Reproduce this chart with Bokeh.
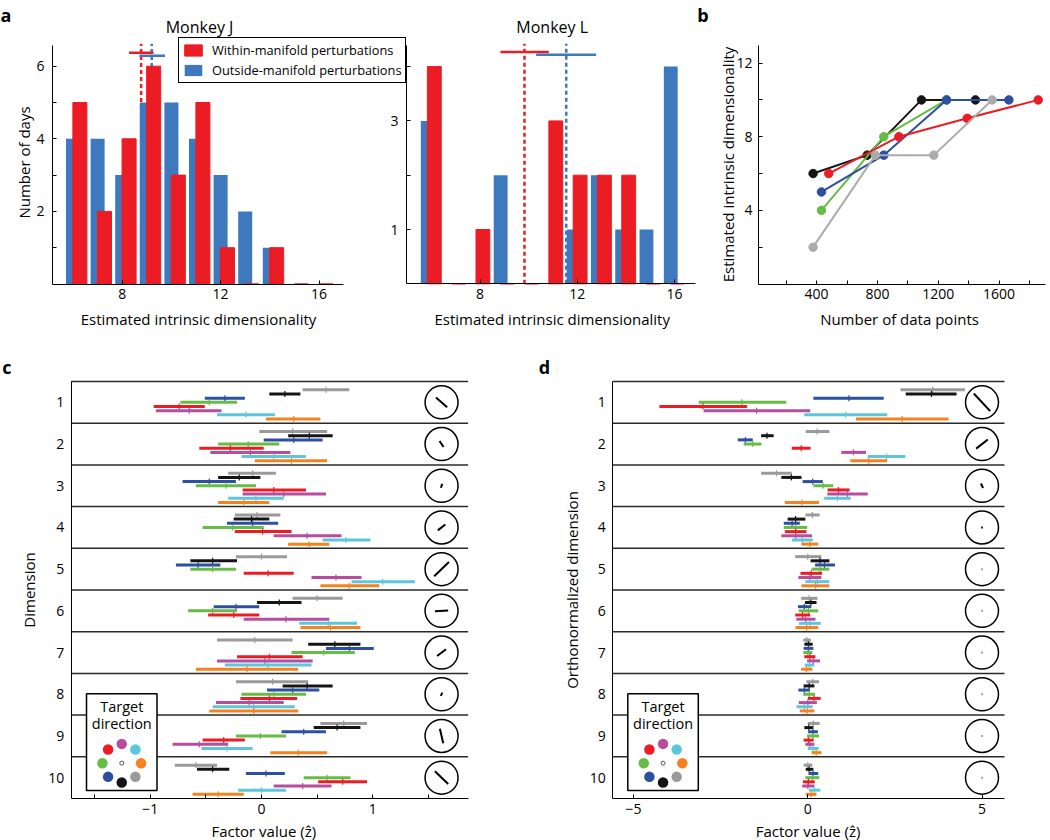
import math
from bokeh.plotting import figure
from bokeh.models import Range1d, FixedTicker, Legend, LegendItem, Label, LinearAxis
from bokeh.embed import file_html
from bokeh.resources import INLINE
from bokeh.core.properties import value

FONT = "Open Sans"
TICK_FS = "14px"
LABEL_FS = "15px"

# ------------------------------------------------------------------ DATA
# panel a: histograms of estimated intrinsic dimensionality
dims = [6, 7, 8, 9, 10, 11, 12, 13, 14, 15, 16]
j_within = [5, 2, 4, 6, 3, 5, 1, 0, 1, 0, 0]
j_outside = [4, 4, 3, 5, 5, 4, 3, 2, 1, 0, 0]
l_within = [4, 0, 1, 0, 0, 3, 2, 2, 2, 0, 0]
l_outside = [3, 0, 0, 2, 0, 0, 1, 2, 1, 1, 4]
j_within_mean, j_within_ci, j_within_ci_y = 8.77, (8.28, 9.27), 6.37
j_outside_mean, j_outside_ci, j_outside_ci_y = 9.20, (8.70, 9.74), 6.29
l_within_mean, l_within_ci, l_within_ci_y = 9.83, (8.84, 10.83), 4.27
l_outside_mean, l_outside_ci, l_outside_ci_y = 11.55, (10.31, 12.78), 4.22

# panel b: dimensionality vs number of data points
b_black_x = [377, 733, 1090, 1445]
b_black_y = [6, 7, 10, 10]
b_green_x = [432, 842, 1255]
b_green_y = [4, 8, 10]
b_blue_x = [432, 842, 1255, 1665]
b_blue_y = [5, 7, 10, 10]
b_red_x = [480, 941, 1391, 1858]
b_red_y = [6, 8, 9, 10]
b_gray_x = [377, 787, 1171, 1555]
b_gray_y = [2, 7, 7, 10]

# panels c, d: factor values per target direction (rows = dimensions 1..10)
targets = ["gray", "black", "blue", "green", "red", "magenta", "cyan", "orange"]
target_angle = [315, 270, 225, 180, 135, 90, 45, 0]
dimensions = [1, 2, 3, 4, 5, 6, 7, 8, 9, 10]

c_center = {
    "gray": [0.58, 0.28, -0.08, -0.04, 0.00, 0.50, -0.06, 0.10, 0.74, -0.59],
    "black": [0.21, 0.43, -0.20, -0.09, -0.44, 0.16, 0.66, 0.41, 0.68, -0.44],
    "blue": [-0.33, 0.29, -0.47, -0.08, -0.57, -0.23, 0.79, 0.28, 0.38, 0.04],
    "green": [-0.47, -0.12, -0.32, -0.26, -0.44, -0.44, 0.56, 0.11, -0.01, 0.59],
    "red": [-0.74, -0.28, 0.11, 0.01, 0.06, -0.25, 0.07, 0.07, -0.34, 0.73],
    "magenta": [-0.65, -0.10, 0.20, 0.41, 0.67, 0.22, 0.03, -0.11, -0.56, 0.37],
    "cyan": [-0.14, 0.11, -0.05, 0.76, 1.09, 0.60, 0.06, -0.07, -0.31, 0.00],
    "orange": [0.29, 0.27, -0.16, 0.43, 0.79, 0.62, -0.13, -0.07, 0.33, -0.39],
}
c_low = {
    "gray": [0.37, -0.02, -0.30, -0.24, -0.23, 0.28, -0.40, -0.23, 0.53, -0.78],
    "black": [0.07, 0.24, -0.39, -0.25, -0.64, -0.04, 0.42, 0.19, 0.47, -0.58],
    "blue": [-0.51, 0.02, -0.71, -0.31, -0.77, -0.43, 0.58, 0.05, 0.18, -0.14],
    "green": [-0.73, -0.39, -0.59, -0.53, -0.64, -0.66, 0.27, -0.18, -0.23, 0.38],
    "red": [-0.97, -0.56, -0.17, -0.24, -0.16, -0.48, -0.22, -0.19, -0.53, 0.51],
    "magenta": [-0.95, -0.46, -0.17, 0.11, 0.45, -0.16, -0.40, -0.41, -0.80, 0.11],
    "cyan": [-0.40, -0.18, -0.30, 0.55, 0.81, 0.34, -0.33, -0.44, -0.54, -0.21],
    "orange": [0.04, -0.06, -0.39, 0.24, 0.53, 0.35, -0.59, -0.47, 0.08, -0.62],
}
c_high = {
    "gray": [0.79, 0.59, 0.13, 0.17, 0.23, 0.73, 0.28, 0.42, 0.95, -0.40],
    "black": [0.35, 0.64, -0.01, 0.07, -0.22, 0.36, 0.89, 0.64, 0.89, -0.29],
    "blue": [-0.15, 0.55, -0.23, 0.15, -0.37, -0.02, 1.01, 0.52, 0.58, 0.21],
    "green": [-0.22, 0.16, -0.05, 0.02, -0.23, -0.22, 0.84, 0.40, 0.22, 0.80],
    "red": [-0.51, 0.02, 0.40, 0.27, 0.29, -0.02, 0.37, 0.32, -0.15, 0.95],
    "magenta": [-0.36, 0.26, 0.58, 0.72, 0.90, 0.61, 0.46, 0.20, -0.30, 0.63],
    "cyan": [0.12, 0.40, 0.20, 0.98, 1.38, 0.86, 0.45, 0.30, -0.08, 0.22],
    "orange": [0.53, 0.59, 0.07, 0.61, 1.06, 0.89, 0.33, 0.33, 0.59, -0.16],
}
c_load_angle = [-41, -56, 72, 38, 44, 3, 37, 63, -77, -44]
c_load_mag = [0.45, 0.22, 0.13, 0.29, 0.62, 0.40, 0.34, 0.11, 0.45, 0.56]

d_center = {
    "gray": [3.59, 0.27, -0.90, 0.13, 0.00, 0.04, -0.03, 0.14, 0.16, 0.00],
    "black": [3.55, -1.17, -0.47, -0.35, 0.35, 0.09, 0.02, 0.04, 0.03, 0.04],
    "blue": [1.18, -1.79, 0.14, -0.45, 0.48, -0.10, 0.02, -0.10, 0.15, 0.15],
    "green": [-1.89, -1.58, 0.44, -0.35, 0.35, 0.02, 0.00, 0.04, 0.15, 0.13],
    "red": [-3.01, -0.19, 0.88, -0.35, 0.10, -0.15, 0.06, 0.18, 0.02, 0.02],
    "magenta": [-1.47, 1.31, 1.14, -0.35, 0.06, -0.06, 0.16, 0.00, 0.06, 0.00],
    "cyan": [1.09, 2.26, 0.85, -0.16, 0.27, 0.06, 0.05, -0.10, 0.15, 0.19],
    "orange": [2.71, 1.75, -0.17, 0.06, 0.22, -0.03, -0.04, -0.02, 0.24, 0.10],
}
d_low = {
    "gray": [2.66, -0.06, -1.34, -0.07, -0.36, -0.19, -0.13, -0.04, 0.00, -0.12],
    "black": [2.81, -1.34, -0.76, -0.58, 0.08, -0.08, -0.10, -0.12, -0.10, -0.06],
    "blue": [0.16, -2.01, -0.15, -0.69, 0.21, -0.28, -0.12, -0.27, 0.01, 0.02],
    "green": [-3.13, -1.84, 0.16, -0.69, 0.11, -0.26, -0.13, -0.13, -0.02, -0.07],
    "red": [-4.26, -0.46, 0.57, -0.66, -0.21, -0.36, -0.10, 0.00, -0.12, -0.14],
    "magenta": [-2.99, 0.96, 0.56, -0.76, -0.27, -0.33, -0.02, -0.26, -0.07, -0.16],
    "cyan": [-0.10, 1.72, 0.47, -0.46, -0.07, -0.25, -0.09, -0.32, 0.00, 0.03],
    "orange": [1.38, 1.22, -0.66, -0.18, -0.18, -0.35, -0.19, -0.23, 0.11, -0.06],
}
d_high = {
    "gray": [4.51, 0.62, -0.46, 0.34, 0.39, 0.28, 0.09, 0.32, 0.34, 0.13],
    "black": [4.27, -0.98, -0.18, -0.07, 0.62, 0.25, 0.14, 0.19, 0.16, 0.16],
    "blue": [2.18, -1.58, 0.43, -0.23, 0.78, 0.10, 0.16, 0.06, 0.29, 0.30],
    "green": [-0.62, -1.33, 0.73, -0.02, 0.62, 0.30, 0.13, 0.21, 0.32, 0.33],
    "red": [-1.74, 0.08, 1.20, -0.04, 0.41, 0.07, 0.22, 0.37, 0.17, 0.20],
    "magenta": [0.07, 1.67, 1.72, 0.12, 0.39, 0.22, 0.35, 0.26, 0.19, 0.19],
    "cyan": [2.28, 2.80, 1.23, 0.14, 0.62, 0.37, 0.19, 0.14, 0.31, 0.36],
    "orange": [4.04, 2.28, 0.32, 0.30, 0.62, 0.30, 0.13, 0.19, 0.39, 0.25],
}
d_load_angle = [-47, 38, -65, 0, 0, 0, 0, 0, 0, 0]
d_load_mag = [0.73, 0.45, 0.15, 0.05, 0.04, 0.04, 0.04, 0.03, 0.03, 0.03]

# ------------------------------------------------------------------ STYLE / LAYOUT
COL = {"gray": "#9a9a9a", "black": "#141414", "blue": "#2d4fa2", "green": "#67bc45",
       "red": "#ec1c24", "magenta": "#b74d9f", "cyan": "#5cc7dc", "orange": "#f5821f"}
A_RED = "#ec1c24"
A_BLUE = "#3e78bd"
B_COL = {"black": "#141414", "green": "#67bc45", "blue": "#2d4fa2", "red": "#ec1c24",
         "gray": "#ababab"}
ROW_OFF = [-0.3, -0.2, -0.1, 0.0, 0.1, 0.2, 0.3, 0.4]
W, H = 1050, 840


def xr_lin(v0, px0, scale):
    return Range1d(v0 - px0 / scale, v0 + (W - px0) / scale)


def yr_lin(v0, py0, scale):
    return Range1d(v0 - (H - py0) / scale, v0 + py0 / scale)


def yr_rows(r0, py0, row_h):
    return Range1d(r0 + (H - py0) / row_h, r0 - py0 / row_h)


p = figure(width=W, height=H, x_range=Range1d(0, W), y_range=Range1d(H, 0),
           x_axis_location=None, y_axis_location=None, title=None,
           min_border_left=0, min_border_right=0, min_border_top=0, min_border_bottom=0,
           output_backend="svg", toolbar_location=None, tools="")
p.outline_line_color = None
p.grid.visible = False
p.background_fill_color = "white"
p.border_fill_color = "white"

ROW_H = 41.7
p.extra_x_ranges = {
    "J": xr_lin(8, 121.7, 24.6), "L": xr_lin(8, 479.5, 24.3), "B": xr_lin(0, 755.3, 0.152),
    "C": xr_lin(0, 261.0, 111.15), "D": xr_lin(0, 807.3, 34.84)}
p.extra_y_ranges = {
    "J": yr_lin(0, 283.5, 36.3), "L": yr_lin(0, 283.3, 54.3), "B": yr_lin(0, 283.5, 18.41),
    "C": yr_rows(0.5, 381.0, ROW_H), "D": yr_rows(0.5, 381.0, ROW_H)}


def add_axis(side, rn, fixed, bounds, ticks, minor=(), standoff=5, tick_in=4):
    ax = LinearAxis(x_range_name=rn, y_range_name=rn, fixed_location=fixed, bounds=bounds,
                    ticker=FixedTicker(ticks=list(ticks), minor_ticks=list(minor)))
    ax.axis_line_color = "black"
    ax.axis_line_width = 1
    ax.major_tick_in = tick_in
    ax.major_tick_out = 0
    ax.minor_tick_in = 4
    ax.minor_tick_out = 0
    ax.major_tick_line_color = "black"
    ax.minor_tick_line_color = "black"
    ax.major_label_text_font = FONT
    ax.major_label_text_font_size = TICK_FS
    ax.major_label_text_color = "black"
    ax.major_label_standoff = standoff
    p.add_layout(ax, side)
    return ax


def text(x, y, t, size=LABEL_FS, angle=0.0, bold=False, align="center", baseline="middle"):
    p.add_layout(Label(x=x, y=y, text=t, text_font=FONT, text_font_size=size,
                       text_font_style="bold" if bold else "normal", angle=angle,
                       text_align=align, text_baseline=baseline, text_color="black"))


# ---------------- panel a
def histogram(rn, within, outside, off_out, off_in, w_mean, w_ci, w_ci_y, o_mean, o_ci,
              o_ci_y, ytop):
    kw = dict(x_range_name=rn, y_range_name=rn)
    p.segment(x0=[w_mean], x1=[w_mean], y0=[0], y1=[ytop], line_color=A_RED,
              line_width=2.5, line_dash="4 3", **kw)
    p.segment(x0=[o_mean], x1=[o_mean], y0=[0], y1=[ytop], line_color=A_BLUE,
              line_width=2.5, line_dash="4 3", **kw)
    r_out = p.vbar(x=[d + off_out for d in dims], top=outside, bottom=0, width=0.57,
                   fill_color=A_BLUE, line_color=None, **kw)
    r_in = p.vbar(x=[d + off_in for d in dims], top=within, bottom=0, width=0.57,
                  fill_color=A_RED, line_color=A_RED, line_width=1, **kw)
    p.segment(x0=[w_ci[0]], x1=[w_ci[1]], y0=[w_ci_y], y1=[w_ci_y], line_color=A_RED,
              line_width=2.5, **kw)
    p.segment(x0=[o_ci[0]], x1=[o_ci[1]], y0=[o_ci_y], y1=[o_ci_y], line_color=A_BLUE,
              line_width=2.5, **kw)
    return r_in, r_out


rJ_in, rJ_out = histogram("J", j_within, j_outside, 0.0, 0.28, j_within_mean, j_within_ci,
                          j_within_ci_y, j_outside_mean, j_outside_ci, j_outside_ci_y, 6.62)
histogram("L", l_within, l_outside, -0.15, 0.12, l_within_mean, l_within_ci, l_within_ci_y,
          l_outside_mean, l_outside_ci, l_outside_ci_y, 4.42)

add_axis("below", "J", 0, (5.167, 16.996), [8, 12, 16], standoff=5)
add_axis("left", "J", 5.167, (0, 6.57), [2, 4, 6], [1, 3, 5], standoff=8)
add_axis("below", "L", 0, (4.975, 16.868), [8, 12, 16], standoff=5)
add_axis("left", "L", 4.975, (0, 4.39), [1, 3], [2, 4], standoff=8)

legend = Legend(items=[LegendItem(label="Within-manifold perturbations", renderers=[rJ_in]),
                       LegendItem(label="Outside-manifold perturbations", renderers=[rJ_out])],
                location=(178, H - 83), orientation="vertical",
                border_line_color="black", border_line_width=1.3, border_line_alpha=1,
                background_fill_color="white", background_fill_alpha=1,
                padding=3, spacing=2, margin=0, glyph_width=22, glyph_height=14,
                label_height=14, label_standoff=8, label_text_font=FONT,
                label_text_font_size="12.8px", label_text_color="black")
p.add_layout(legend)

text(199, 26, "Monkey J", size="16px")
text(551.7, 26, "Monkey L", size="16px")
text(198, 318, "Estimated intrinsic dimensionality")
text(551.7, 318, "Estimated intrinsic dimensionality")
text(23, 162, "Number of days", angle=math.pi / 2)
text(0, 14, "a", size="18px", bold=True, align="left", baseline="alphabetic")

# ---------------- panel b
for name, xs, ys in [("black", b_black_x, b_black_y), ("green", b_green_x, b_green_y),
                     ("blue", b_blue_x, b_blue_y), ("red", b_red_x, b_red_y),
                     ("gray", b_gray_x, b_gray_y)]:
    p.line(xs, ys, line_color=B_COL[name], line_width=2, x_range_name="B", y_range_name="B")
    p.scatter(xs, ys, marker="circle", size=8.5, fill_color=B_COL[name],
              line_color=B_COL[name], x_range_name="B", y_range_name="B")
add_axis("below", "B", 0, (18, 1906), [400, 800, 1200, 1600], [200, 600, 1000, 1400, 1800],
         standoff=5)
add_axis("left", "B", 18, (0, 12.95), [4, 8, 12], [2, 6, 10], standoff=6)
text(899, 318, "Number of data points")
text(727, 164, "Estimated intrinsic dimensionality", angle=math.pi / 2)
text(696.7, 14, "b", size="18px", bold=True, align="left", baseline="alphabetic")


# ---------------- panels c, d
def factor_panel(rn, xlo, xhi, xt, xmt, center, low, high, l_ang, l_mag, circ_x,
                 box_left, ylabel, ylabel_x, xlabel_x, letter, letter_x):
    kw = dict(x_range_name=rn, y_range_name=rn)
    seps = [0.5, 1.5, 2.5, 3.5, 4.5, 5.5, 6.5, 7.5, 8.5, 9.5]
    p.segment(x0=[xlo] * len(seps), x1=[xhi] * len(seps), y0=seps, y1=seps,
              line_color="#2a2a2a", line_width=1.5, **kw)
    for k, name in enumerate(targets):
        ys = [d + ROW_OFF[k] for d in dimensions]
        p.segment(x0=low[name], x1=high[name], y0=ys, y1=ys, line_color=COL[name],
                  line_width=3, **kw)
        p.scatter(x=center[name], y=ys, marker="dash", angle=math.pi / 2, size=6,
                  line_color=COL[name], line_width=1.2, **kw)
    p.scatter(x=[circ_x] * 10, y=dimensions, marker="circle", size=33,
              fill_color=None, line_color="black", line_width=1.5, **kw)
    p.scatter(x=[circ_x] * 10, y=dimensions, marker="dash",
              angle=[math.radians(a) for a in l_ang], size=[max(m * 33, 1.5) for m in l_mag],
              line_color=["black" if m > 0.045 else "#888888" for m in l_mag],
              line_width=2, **kw)
    # "Target direction" inset (pixel layout coordinates)
    bl, br, bt, bb = box_left, box_left + 70.5, 693.3, 790.0
    p.quad(left=[bl], right=[br], top=[bt], bottom=[bb], fill_color="white",
           line_color="black", line_width=1.5)
    cx = (bl + br) / 2
    text(cx, 705.5, "Target", size="14.5px")
    text(cx, 723, "direction", size="14.5px")
    cy = 762.7
    dx = [cx + 19.3 * math.cos(math.radians(a)) for a in target_angle]
    dy = [cy - 19.3 * math.sin(math.radians(a)) for a in target_angle]
    p.scatter(x=dx, y=dy, marker="circle", size=10.5, fill_color=[COL[t] for t in targets],
              line_color=None)
    p.scatter(x=[cx], y=[cy], marker="circle", size=4, fill_color="white",
              line_color="#555555", line_width=1)
    add_axis("below", rn, 10.5, (xlo, xhi), xt, xmt, standoff=5)
    add_axis("left", rn, xlo, (0.5, 10.5), dimensions, standoff=7, tick_in=0)
    text(ylabel_x, 589.5, ylabel, angle=math.pi / 2)
    text(xlabel_x, 830.5, "Factor value (\u1e91)")
    text(letter_x, 366.8, letter, size="18px", bold=True, align="left", baseline="alphabetic")


factor_panel("C", -1.712, 1.859, [-1, 0, 1], [-1.5, -0.5, 0.5, 1.5], c_center, c_low,
             c_high, c_load_angle, c_load_mag, 1.62, 86.0, "Dimension", 28.3, 263.3, "c", 1.7)
factor_panel("D", -5.597, 5.646, [-5, 0, 5], [], d_center, d_low, d_high,
             d_load_angle, d_load_mag, 5.0, 627.3, "Orthonormalized dimension", 571.5, 807.5,
             "d", 538.3)

open("out.html", "w").write(file_html(p, INLINE))
